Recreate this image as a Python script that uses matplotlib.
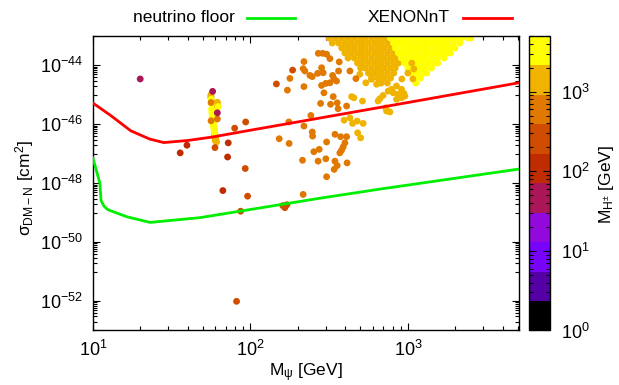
"""
Dark matter - nucleon cross section vs DM mass, coloured by the charged Higgs mass.
Values are read off a gnuplot figure, in log10 units.
"""

import matplotlib

matplotlib.use("Agg")
import matplotlib.pyplot as plt
import numpy as np
from matplotlib.colors import ListedColormap, LogNorm
from matplotlib.lines import Line2D
from matplotlib.cm import ScalarMappable
from matplotlib.ticker import FixedLocator, LogLocator, NullFormatter, LogFormatterSciNotation

plt.rcParams["font.family"] = ["Liberation Sans", "DejaVu Sans"]
plt.rcParams["mathtext.fontset"] = "custom"
plt.rcParams["mathtext.rm"] = "Liberation Sans"
plt.rcParams["mathtext.it"] = "Liberation Sans:italic"
plt.rcParams["font.size"] = 12

# --------- data (log10 M_psi [GeV], log10 sigma [cm^2]) ---------

xenon_lm = [1.00, 1.11, 1.24, 1.36, 1.45, 1.60, 1.76, 2.00, 2.31, 3.00, 3.705]
xenon_ls = [-45.28, -45.69, -46.22, -46.50, -46.62, -46.55, -46.43, -46.20, -45.91, -45.26, -44.59]

floor_lm = [1.000, 1.044, 1.051, 1.070, 1.095, 1.216, 1.362, 1.679, 1.933, 2.441, 2.822, 3.705]
floor_ls = [-47.15, -48.00, -48.58, -48.78, -48.90, -49.14, -49.33, -49.17, -48.95, -48.51, -48.20, -47.52]

# charged Higgs mass [GeV] of each colour band seen in the points
MH_CRIMSON = 50
MH_DARKRED = 110
MH_REDORANGE = 250
MH_ORANGE = 600
MH_ORYEL = 1500
MH_YELLOW = 3500

# dense cloud at large mass: orange-yellow part
blob_oy_lm = [2.50, 2.54, 2.58, 2.62, 2.66, 2.70, 2.73, 2.77, 2.81, 2.85,
              2.52, 2.56, 2.60, 2.64, 2.68, 2.71, 2.75, 2.79, 2.83, 2.87,
              2.58, 2.62, 2.66, 2.70, 2.73, 2.77, 2.81, 2.85, 2.89,
              2.60, 2.64, 2.68, 2.71, 2.75, 2.79, 2.83, 2.87, 2.91,
              2.62, 2.66, 2.70, 2.73, 2.77, 2.81, 2.85, 2.89, 2.92,
              2.68, 2.71, 2.75, 2.79, 2.83, 2.87, 2.91, 2.94,
              2.70, 2.73, 2.77, 2.81, 2.85, 2.89, 2.92,
              2.75, 2.79, 2.83, 2.87, 2.91,
              2.77, 2.81, 2.85, 2.89,
              2.83, 2.87]
blob_oy_ls = [-43.07, -43.07, -43.07, -43.07, -43.07, -43.07, -43.07, -43.07, -43.07, -43.07,
              -43.24, -43.24, -43.24, -43.24, -43.24, -43.24, -43.24, -43.24, -43.24, -43.24,
              -43.41, -43.41, -43.41, -43.41, -43.41, -43.41, -43.41, -43.41, -43.41,
              -43.58, -43.58, -43.58, -43.58, -43.58, -43.58, -43.58, -43.58, -43.58,
              -43.75, -43.75, -43.75, -43.75, -43.75, -43.75, -43.75, -43.75, -43.75,
              -43.92, -43.92, -43.92, -43.92, -43.92, -43.92, -43.92, -43.92,
              -44.09, -44.09, -44.09, -44.09, -44.09, -44.09, -44.09,
              -44.26, -44.26, -44.26, -44.26, -44.26,
              -44.43, -44.43, -44.43, -44.43,
              -44.60, -44.60]

# dense cloud: yellow part
blob_y_lm = [2.89, 2.92, 2.96, 3.00, 3.04, 3.08, 3.11, 3.15, 3.19, 3.23, 3.27, 3.30, 3.34, 3.38, 3.40,
             2.91, 2.94, 2.98, 3.02, 3.06, 3.10, 3.13, 3.17, 3.21, 3.25, 3.29, 3.33,
             2.92, 2.96, 3.00, 3.04, 3.08, 3.11, 3.15, 3.19, 3.23, 3.27, 3.30,
             2.94, 2.98, 3.02, 3.06, 3.10, 3.13, 3.17, 3.21, 3.25, 3.27,
             2.96, 3.00, 3.04, 3.08, 3.11, 3.15, 3.19, 3.23,
             2.98, 3.02, 3.06, 3.10, 3.13, 3.17, 3.19,
             3.00, 3.04, 3.08, 3.11, 3.15,
             3.02, 3.06, 3.10, 3.12,
             3.04, 3.08,
             3.05]
blob_y_ls = [-43.07, -43.07, -43.07, -43.07, -43.07, -43.07, -43.07, -43.07, -43.07, -43.07,
             -43.07, -43.07, -43.07, -43.07, -43.07,
             -43.24, -43.24, -43.24, -43.24, -43.24, -43.24, -43.24, -43.24, -43.24, -43.24,
             -43.24, -43.24,
             -43.41, -43.41, -43.41, -43.41, -43.41, -43.41, -43.41, -43.41, -43.41, -43.41, -43.41,
             -43.58, -43.58, -43.58, -43.58, -43.58, -43.58, -43.58, -43.58, -43.58, -43.58,
             -43.75, -43.75, -43.75, -43.75, -43.75, -43.75, -43.75, -43.75,
             -43.92, -43.92, -43.92, -43.92, -43.92, -43.92, -43.92,
             -44.09, -44.09, -44.09, -44.09, -44.09,
             -44.26, -44.26, -44.26, -44.26,
             -44.43, -44.43,
             -44.60]

# isolated points, one list pair per colour band
oryel_lm = [1.75, 1.75, 1.79, 1.77, 1.775, 1.78, 1.77,
            1.748, 1.752, 1.780, 1.785, 1.790, 1.790, 1.772, 1.776,
            2.643, 2.657, 2.712, 2.595, 2.632, 2.649, 2.678, 2.716, 2.681, 2.700,
            2.865, 2.886, 2.860, 2.811, 2.822, 2.843, 2.875, 2.907, 2.938, 2.928,
            2.960, 2.975, 2.981, 3.032, 3.000, 2.962, 3.025, 3.038,
            2.733, 2.769, 2.801, 2.822, 2.897, 2.928, 2.960, 2.695, 2.754]
oryel_ls = [-44.99, -45.10, -45.32, -46.17, -46.34, -46.51, -46.42,
            -45.05, -45.20, -46.45, -46.60, -45.25, -45.40, -46.38, -46.55,
            -45.06, -45.10, -45.21, -45.86, -45.78, -45.97, -45.89, -45.97, -46.29, -46.46,
            -45.55, -45.58, -45.44, -45.21, -45.13, -45.02, -44.87, -44.93, -44.98, -45.15,
            -45.10, -44.95, -45.04, -44.46, -44.26, -44.46, -43.92, -44.12,
            -44.59, -44.47, -44.64, -44.59, -44.81, -44.70, -44.81, -44.30, -44.25]

yellow_lm = [1.795, 1.753, 1.755, 1.757, 1.760, 1.762, 1.765, 1.770,
             1.750, 1.752, 1.758, 1.762, 1.766, 1.770, 1.773, 1.768]
yellow_ls = [-45.40, -45.49, -45.60, -45.72, -45.83, -45.94, -46.05, -46.25,
             -45.15, -45.30, -45.55, -45.78, -46.00, -46.15, -46.30, -46.10]

orange_lm = [1.75, 1.79, 1.75,
             2.235, 2.183, 2.244, 2.246,
             2.340, 2.335, 2.346, 2.251, 2.340, 2.378, 2.393, 2.427, 2.452, 2.459,
             2.484, 2.505, 2.564, 2.462, 2.522, 2.530, 2.547, 2.505, 2.479, 2.452,
             2.467, 2.526, 2.551, 2.557, 2.509, 2.446, 2.611, 2.632, 2.670, 2.560,
             2.384, 2.340, 2.393, 2.395, 2.484, 2.537, 2.573, 2.611, 2.600, 2.589,
             2.579, 2.568, 2.437, 2.403, 2.331, 2.430, 2.479, 2.537, 2.551, 2.532,
             2.614, 2.484, 2.335, 2.431]
orange_ls = [-45.26, -45.82, -45.88,
             -44.84, -46.49, -45.92, -46.65,
             -43.87, -44.11, -44.19, -44.44, -44.72, -44.34, -44.38, -44.27, -44.08, -43.59,
             -43.62, -43.77, -43.88, -44.25, -44.34, -44.45, -44.53, -44.59, -44.61, -44.68,
             -44.93, -45.06, -45.27, -45.47, -45.32, -45.29, -45.38, -44.19, -44.45, -44.19,
             -45.70, -46.06, -46.26, -46.40, -46.60, -46.34, -46.42, -46.42, -46.63, -46.77,
             -46.88, -46.97, -46.85, -46.93, -47.22, -47.25, -47.17, -47.25, -47.40, -47.53,
             -47.31, -47.78, -48.38, -43.59]

redorange_lm = [1.775, 1.900, 1.970, 1.967, 1.982, 1.938, 1.912, 2.165,
                2.206, 2.219, 2.232, 2.268]
redorange_ls = [-46.79, -46.13, -45.92, -47.50, -48.44, -48.95, -52.01, -44.63,
                -48.76, -48.83, -48.73, -44.16]

darkred_lm = [1.597, 1.554, 1.859, 1.855, 1.825]
darkred_ls = [-46.71, -46.97, -46.63, -47.11, -48.25]

crimson_lm = [1.30, 1.76, 1.79]
crimson_ls = [-44.46, -44.88, -45.61]

# 10-step gnuplot palette (rgbformulae 7,5,15), colour bar range of M_H+-
palette = ["#000000", "#5500A4", "#7803FB", "#9309DD", "#AA1657",
           "#BE2C00", "#D04C00", "#E17800", "#F0B300", "#FFFF00"]
MH_MIN, MH_MAX = 1, 5000


def main():
    cmap = ListedColormap(palette)
    norm = LogNorm(vmin=MH_MIN, vmax=MH_MAX)

    fig = plt.figure(figsize=(6.19, 3.85), dpi=100)
    ax = fig.add_axes([0.1502, 0.1416, 0.688, 0.765])

    groups = [
        (blob_oy_lm, blob_oy_ls, MH_ORYEL),
        (blob_y_lm, blob_y_ls, MH_YELLOW),
        (oryel_lm, oryel_ls, MH_ORYEL),
        (yellow_lm, yellow_ls, MH_YELLOW),
        (orange_lm, orange_ls, MH_ORANGE),
        (redorange_lm, redorange_ls, MH_REDORANGE),
        (darkred_lm, darkred_ls, MH_DARKRED),
        (crimson_lm, crimson_ls, MH_CRIMSON),
    ]
    for lm, ls, mh in groups:
        ax.scatter(10.0 ** np.array(lm), 10.0 ** np.array(ls),
                   c=np.full(len(lm), mh), cmap=cmap, norm=norm,
                   s=24, linewidths=0, zorder=2)

    ax.plot(10.0 ** np.array(floor_lm), 10.0 ** np.array(floor_ls),
            color="#00ee00", lw=2, zorder=3)
    ax.plot(10.0 ** np.array(xenon_lm), 10.0 ** np.array(xenon_ls),
            color="#ff0000", lw=2, zorder=3)

    ax.set_xscale("log")
    ax.set_yscale("log")
    ax.set_xlim(10, 10 ** 3.705)
    ax.set_ylim(1e-53, 1e-43)

    ax.xaxis.set_major_locator(FixedLocator([10, 100, 1000]))
    ax.xaxis.set_major_formatter(LogFormatterSciNotation())
    ax.xaxis.set_minor_locator(LogLocator(base=10, subs=np.arange(2, 10)))
    ax.xaxis.set_minor_formatter(NullFormatter())

    ax.yaxis.set_major_locator(FixedLocator([10.0 ** e for e in range(-52, -43, 2)]))
    ax.yaxis.set_major_formatter(LogFormatterSciNotation())
    ax.yaxis.set_minor_locator(FixedLocator(
        [k * 10.0 ** (e - 1) for e in range(-52, -41, 2) for k in range(1, 10)]))
    ax.yaxis.set_minor_formatter(NullFormatter())

    ax.tick_params(which="both", direction="in", top=True, right=True,
                   labelsize=13, width=0.8)
    ax.tick_params(which="major", length=5, pad=7)
    ax.tick_params(which="minor", length=3)
    for sp in ax.spines.values():
        sp.set_linewidth(1.0)

    # colour bar
    cax = fig.add_axes([0.8546, 0.1416, 0.0339, 0.765])
    cb = fig.colorbar(ScalarMappable(norm=norm, cmap=cmap), cax=cax)
    cb.outline.set_linewidth(1.0)
    cax.yaxis.set_major_locator(FixedLocator([1, 10, 100, 1000]))
    cax.yaxis.set_major_formatter(LogFormatterSciNotation())
    cax.yaxis.set_minor_locator(LogLocator(base=10, subs=np.arange(2, 10)))
    cax.yaxis.set_minor_formatter(NullFormatter())
    cax.tick_params(which="both", direction="in", left=True, right=True,
                    labelsize=13, width=0.8, color="black")
    cax.tick_params(which="major", length=5, pad=8)
    cax.tick_params(which="minor", length=3)

    # axis titles
    fig.text(306 / 619, 1 - 373 / 385, r"M$_{\mathrm{ψ}}$ [GeV]",
             ha="center", va="center", fontsize=12.5)
    fig.text(25 / 619, 1 - 188 / 385, r"σ$_{\mathrm{DM-N}}$ [cm$^{2}$]",
             ha="center", va="center", rotation=90, fontsize=12.5)
    fig.text(607 / 619, 1 - 184 / 385, r"M$_{\mathrm{H^{\pm}}}$ [GeV]",
             ha="center", va="center", rotation=90, fontsize=12.5)

    # key along the top, gnuplot style
    key_y = 1 - 18 / 385
    fig.text(235 / 619, key_y, "neutrino floor", ha="right", va="center", fontsize=12.5)
    fig.add_artist(Line2D([247 / 619, 295 / 619], [key_y, key_y], color="#00ee00", lw=2))
    fig.text(450 / 619, key_y, "XENONnT", ha="right", va="center", fontsize=12.5)
    fig.add_artist(Line2D([463 / 619, 512 / 619], [key_y, key_y], color="#ff0000", lw=2))

    fig.savefig("out.png", dpi=100)
    plt.close(fig)


if __name__ == "__main__":
    main()
